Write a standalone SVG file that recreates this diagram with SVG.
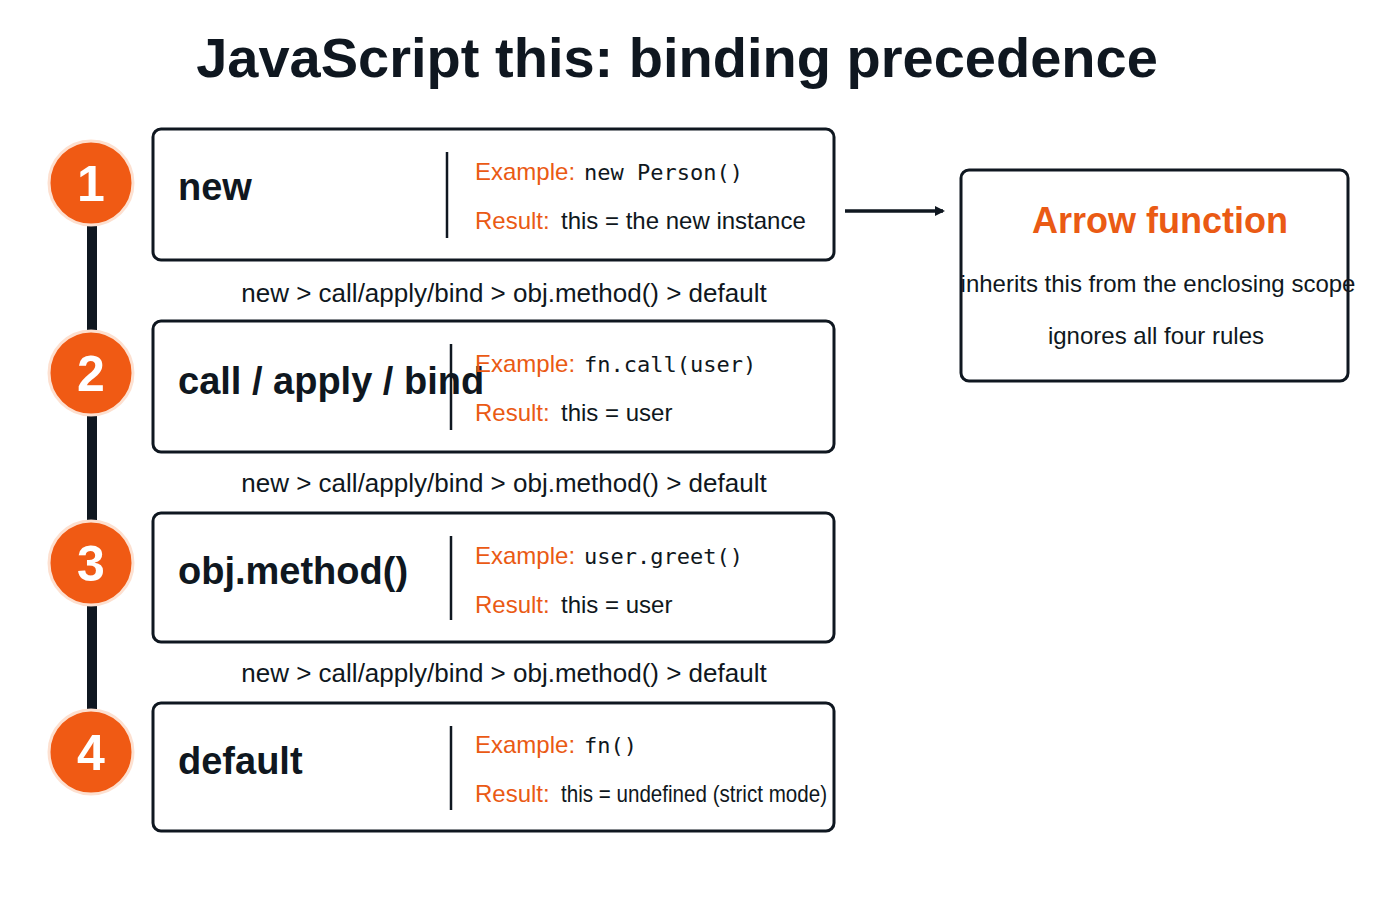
<svg xmlns="http://www.w3.org/2000/svg" width="1400" height="900" viewBox="0 0 1400 900">
<style>
.box{fill:#fff;stroke:#0f1720;stroke-width:3}
.div{stroke:#0f1720;stroke-width:2.5}
.circ{fill:#f05a14;stroke:#fde0d0;stroke-width:3}
.num{font-family:"Liberation Sans",sans-serif;font-weight:bold;font-size:50px;fill:#fff;text-anchor:middle}
.name{font-family:"Liberation Sans",sans-serif;font-weight:bold;font-size:38px;fill:#0f1720}
.lab{font-family:"Liberation Sans",sans-serif;font-size:24px;fill:#ea5a14}
.val{font-family:"Liberation Sans",sans-serif;font-size:24px;fill:#0f1720}
.mono{font-family:"DejaVu Sans Mono",monospace;font-size:22px;fill:#0f1720}
.prec{font-family:"Liberation Sans",sans-serif;font-size:26px;fill:#0f1720;text-anchor:middle}
</style>
<defs><marker id="ah" markerWidth="10" markerHeight="10" refX="8" refY="5" orient="auto" markerUnits="userSpaceOnUse" viewBox="0 0 10 10"><path d="M0,0 L10,5 L0,10 z" fill="#0f1720"/></marker></defs>
<rect width="1400" height="900" fill="#fff"/>
<text x="677" y="77" text-anchor="middle" font-family="Liberation Sans,sans-serif" font-weight="bold" font-size="56" fill="#0f1720">JavaScript this: binding precedence</text>
<g id="connectors">
<line x1="92" y1="183" x2="92" y2="752" stroke="#0f1720" stroke-width="10"/>
<line x1="845" y1="211" x2="943" y2="211" stroke="#0f1720" stroke-width="3.5" marker-end="url(#ah)"/>
</g>
<g id="n1"><rect class="box" x="153" y="129" width="681" height="131" rx="8"/><line class="div" x1="447" y1="152" x2="447" y2="238"/><text class="name" x="178" y="200">new</text><text class="lab" x="475" y="180">Example:</text><text class="mono" x="584" y="180">new Person()</text><text class="lab" x="475" y="229">Result:</text><text class="val" x="561" y="229">this = the new instance</text></g>
<g id="c1"><circle class="circ" cx="91" cy="183" r="42"/><text class="num" x="91" y="201">1</text></g>
<text class="prec" x="504" y="302">new &gt; call/apply/bind &gt; obj.method() &gt; default</text>
<g id="n2"><rect class="box" x="153" y="321" width="681" height="131" rx="8"/><line class="div" x1="451" y1="344" x2="451" y2="430"/><text class="name" x="178" y="394">call / apply / bind</text><text class="lab" x="475" y="372">Example:</text><text class="mono" x="584" y="372">fn.call(user)</text><text class="lab" x="475" y="421">Result:</text><text class="val" x="561" y="421">this = user</text></g>
<g id="c2"><circle class="circ" cx="91" cy="373" r="42"/><text class="num" x="91" y="391">2</text></g>
<text class="prec" x="504" y="492">new &gt; call/apply/bind &gt; obj.method() &gt; default</text>
<g id="n3"><rect class="box" x="153" y="513" width="681" height="129" rx="8"/><line class="div" x1="451" y1="536" x2="451" y2="620"/><text class="name" x="178" y="584">obj.method()</text><text class="lab" x="475" y="564">Example:</text><text class="mono" x="584" y="564">user.greet()</text><text class="lab" x="475" y="613">Result:</text><text class="val" x="561" y="613">this = user</text></g>
<g id="c3"><circle class="circ" cx="91" cy="563" r="42"/><text class="num" x="91" y="581">3</text></g>
<text class="prec" x="504" y="682">new &gt; call/apply/bind &gt; obj.method() &gt; default</text>
<g id="n4"><rect class="box" x="153" y="703" width="681" height="128" rx="8"/><line class="div" x1="451" y1="726" x2="451" y2="810"/><text class="name" x="178" y="774">default</text><text class="lab" x="475" y="753">Example:</text><text class="mono" x="584" y="753">fn()</text><text class="lab" x="475" y="802">Result:</text><text class="val" x="561" y="802" textLength="266" lengthAdjust="spacingAndGlyphs">this = undefined (strict mode)</text></g>
<g id="c4"><circle class="circ" cx="91" cy="752" r="42"/><text class="num" x="91" y="770">4</text></g>
<g id="arrow"><rect class="box" x="961" y="170" width="387" height="211" rx="8"/><text x="1160" y="233" text-anchor="middle" font-family="Liberation Sans,sans-serif" font-weight="bold" font-size="36" fill="#ea5a14">Arrow function</text><text class="val" x="1158" y="292" text-anchor="middle" font-size="22">inherits this from the enclosing scope</text><text class="val" x="1156" y="344" text-anchor="middle" font-size="22">ignores all four rules</text></g>
</svg>
